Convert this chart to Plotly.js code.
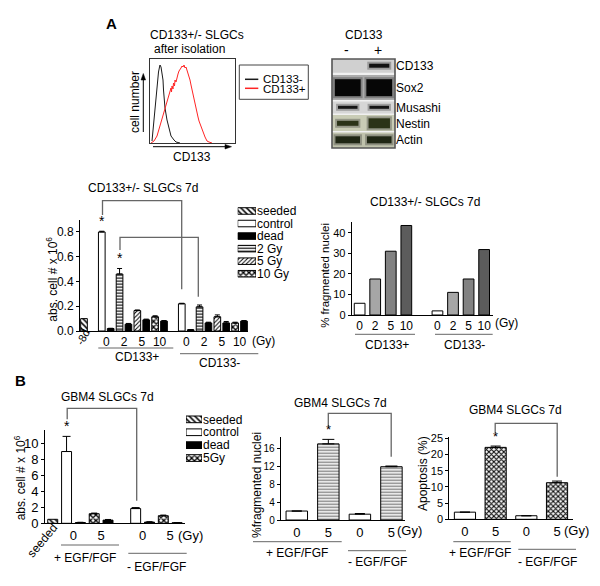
<!DOCTYPE html>
<html><head><meta charset="utf-8">
<script src="https://cdn.plot.ly/plotly-3.0.1.min.js"></script>
<style>html,body{margin:0;padding:0;background:#fff}#chart{width:600px;height:586px}</style>
</head><body><div id="chart"></div>
<script>
// ================= DATA =================
// Panel A - flow cytometry histogram (relative CD133 fluorescence vs relative cell number)
const histNegX = [2,3.5,5,7,8.5,9.5,10,11,12,13,13.5,15,17,19,21,24,26,30];
const histNegY = [2,18,38,56,71,76,78,76,71,63,53,35,23,15,7,3,1,0];
const histPosX = [1,4,7,10,12,14,16,18,19,20,21,21.5,22,23,23.5,24.5,25,26,27,28,29,30,31,32,33,34,35,36,37,38,39,40,41,42,43,44,45,46,47,48,49,50,51,52,53,54,55,56,57,59,62];
const histPosY = [0,2,7,17,25,31,37,43,48,52,55,51,57,54,60,57,63,61,67,69,72,73,75,77,76,78,75,76,73,71,67,63,58,53,48,44,39,35,30,26,22,19,16,13,11,8,6,4,2,1,0];
const histLegend = ['CD133-','CD133+'];

// Panel A - western blot (band strength per lane)
const blotProteins = ['CD133','Sox2','Musashi','Nestin','Actin'];
const blotLanes = ['-','+'];
const blotNeg = [0, 17, 3, 5, 7];
const blotPos = [4, 17, 3, 10, 7];

// Panel A - absolute cell numbers (x 10^6), groups CD133+ and CD133-
const aGroups = ['CD133+','CD133-'];
const aDoseLabels = ['0','2','5','10'];
const aSeeded = [0.10];
const aControl = [0.80, 0.22];      const aControlErr = [0.006, 0.004];
const aDead = [0.02, 0.055, 0.09, 0.08, 0.01, 0.065, 0.065, 0.08];
const aDeadErr = [0.002, 0.006, 0.006, 0.004, 0.002, 0.006, 0.012, 0.004];
const a2Gy = [0.46, 0.195];          const a2GyErr = [0.045, 0.015];
const a5Gy = [0.165, 0.115];         const a5GyErr = [0.005, 0.015];
const a10Gy = [0.115, 0.065];        const a10GyErr = [0.008, 0.006];
const legendA = ['seeded','control','dead','2 Gy','5 Gy','10 Gy'];

// Panel A - % fragmented nuclei
const fragDoses = ['0','2','5','10'];
const fragCD133pos = [5.7, 17.5, 31.0, 43.5];
const fragCD133neg = [2.0, 11.0, 17.5, 31.8];

// Panel B - GBM4 absolute cell numbers (x 10^6), +EGF/FGF and -EGF/FGF
const bGroups = ['+ EGF/FGF','- EGF/FGF'];
const bDoseLabels = ['0','5'];
const bSeeded = [0.5];
const bControl = [9.0, 1.85];        const bControlErr = [1.9, 0.12];
const bDead = [0.1, 0.4, 0.15, 0.08]; const bDeadErr = [0.03, 0.08, 0.04, 0.02];
const b5Gy = [1.2, 0.95];            const b5GyErr = [0.08, 0.08];
const legendB = ['seeded','control','dead','5Gy'];

// Panel B - % fragmented nuclei and apoptosis
const bFrag = [2.0, 17.0, 1.3, 11.9];  const bFragErr = [0, 1.0, 0.15, 0.15];
const bApop = [2.2, 22.2, 1.1, 11.3];  const bApopErr = [0, 0.4, 0, 0.5];

// ================= LAYOUT HELPERS =================
const FONT = 'Liberation Sans, Arial, Helvetica, sans-serif';
const W = 600, H = 586;
const X = p => p / W, Y = p => 1 - p / H;
const dx = (a, b) => [a / W, b / W];
const dy = (top, bot) => [1 - bot / H, 1 - top / H];

const layout = {
  width: W, height: H, margin: {l:0, r:0, t:0, b:0},
  paper_bgcolor: 'white', plot_bgcolor: 'rgba(0,0,0,0)',
  showlegend: false, barmode: 'overlay',
  font: {family: FONT, size: 12, color: '#000'},
  annotations: [], shapes: []
};
function ann(text, x, y, o) {
  layout.annotations.push(Object.assign({text, x: X(x), y: Y(y), xref:'paper', yref:'paper',
    showarrow:false, xanchor:'center', yanchor:'middle'}, o || {}));
}
function pline(x0, y0, x1, y1, color, w) {
  layout.shapes.push({type:'line', xref:'paper', yref:'paper', x0:X(x0), y0:Y(y0), x1:X(x1), y1:Y(y1),
    line:{color: color || '#666', width: w || 1}});
}
function ppath(pts, fill) {
  const d = pts.map((p, i) => (i ? 'L' : 'M') + X(p[0]) + ',' + Y(p[1])).join(' ') + (fill ? ' Z' : '');
  layout.shapes.push({type:'path', xref:'paper', yref:'paper', path:d,
    fillcolor: fill || 'rgba(0,0,0,0)', line:{color: fill ? fill : '#666', width: fill ? 0.5 : 1.3}});
}
const bracket = (xl, yl, yTop, xr, yr) => ppath([[xl,yl],[xl,yTop],[xr,yTop],[xr,yr]]);
const yBase = {showline:true, linecolor:'#000', linewidth:1, ticks:'outside', ticklen:3, tickwidth:1,
  tickcolor:'#000', showgrid:false, zeroline:false};
const xBase = {showline:true, linecolor:'#000', linewidth:1, ticks:'', showgrid:false, zeroline:false,
  tickmode:'array'};
const hidden = {visible:false, showgrid:false, zeroline:false};
const legendY = (labels, top, bot) => ({domain: dy(top, bot), range:[labels.length - 0.5, -0.5], side:'right',
  tickmode:'array', tickvals: labels.map((_, i) => i), ticktext: labels, ticks:'', showline:false,
  showgrid:false, zeroline:false, tickfont:{size:12}});

// ---- axes ----
Object.assign(layout, {
  xaxis: {domain: dx(150,235), range:[0,85], anchor:'y', showline:true, mirror:true, linecolor:'#333', linewidth:1,
          ticks:'', showticklabels:false, showgrid:false, zeroline:false},
  yaxis: {domain: dy(59,143), range:[0,84], anchor:'x', showline:true, mirror:true, linecolor:'#333', linewidth:1,
          ticks:'', showticklabels:false, showgrid:false, zeroline:false},
  xaxis2: Object.assign({domain: dx(332,395), range:[-0.5,1.5], anchor:'y2'}, hidden),
  yaxis2: {domain: dy(59,148), range:[89,0], anchor:'x2', side:'right', tickmode:'array',
           tickvals:[6.7,28.7,48.3,64.3,80.8], ticktext: blotProteins, ticks:'', showline:false,
           showgrid:false, zeroline:false, tickfont:{size:12}},
  xaxis3: Object.assign({}, xBase, {domain: dx(80,248), range:[-0.45,18.45], anchor:'y3',
           tickvals:[2.5,4.5,6.5,8.5,11.5,13.5,15.5,17.5], ticktext: aDoseLabels.concat(aDoseLabels), tickfont:{size:12}}),
  yaxis3: Object.assign({}, yBase, {domain: dy(219.6,331), range:[0,0.9], anchor:'x3',
           tickvals:[0,0.2,0.4,0.6,0.8], tickformat:'.1f', tickfont:{size:12}}),
  xaxis4: Object.assign({}, xBase, {domain: dx(351.7,492.7), range:[-0.51,8.55], anchor:'y4',
           tickvals:[0,1,2,3,5,6,7,8], ticktext: fragDoses.concat(fragDoses), tickfont:{size:12}}),
  yaxis4: Object.assign({}, yBase, {domain: dy(222.4,315), range:[0,45], anchor:'x4',
           tickvals:[0,10,20,30,40], tickfont:{size:11}}),
  xaxis5: Object.assign({}, xBase, {domain: dx(45,185), range:[-0.56,9.57], anchor:'y5',
           tickvals:[1.5,3.5,6.5,8.5], ticktext: bDoseLabels.concat(bDoseLabels), tickfont:{size:13}}),
  yaxis5: Object.assign({}, yBase, {domain: dy(430,523.3), range:[0,11.7], anchor:'x5',
           tickvals:[0,2,4,6,8,10], tickfont:{size:13}}),
  xaxis6: Object.assign({}, xBase, {domain: dx(280.7,405), range:[-0.51,3.43], anchor:'y6',
           tickvals:[0,1,2,3], ticktext: bDoseLabels.concat(bDoseLabels), tickfont:{size:13}}),
  yaxis6: Object.assign({}, yBase, {domain: dy(436.7,520), range:[0,18.6], anchor:'x6',
           tickvals:[0,4,8,12,16], tickfont:{size:10}}),
  xaxis7: Object.assign({}, xBase, {domain: dx(449.3,573.3), range:[-0.51,3.53], anchor:'y7',
           tickvals:[0,1,2,3], ticktext: bDoseLabels.concat(bDoseLabels), tickfont:{size:13}}),
  yaxis7: Object.assign({}, yBase, {domain: dy(437,519.3), range:[0,25.4], anchor:'x7',
           tickvals:[0,5,10,15,20,25], tickfont:{size:11}}),
  xaxis8: Object.assign({domain: dx(237.7,256), range:[0,1], anchor:'y8'}, hidden),
  yaxis8: Object.assign(legendY(legendA, 204.7, 280), {anchor:'x8'}),
  xaxis9: Object.assign({domain: dx(186,202), range:[0,1], anchor:'y9'}, hidden),
  yaxis9: Object.assign(legendY(legendB, 412.9, 464.5), {anchor:'x9'})
});

// ================= TRACES =================
const traces = [];
// Histogram
traces.push({type:'scatter', mode:'lines', x:histNegX, y:histNegY, xaxis:'x', yaxis:'y',
  line:{color:'#1a1a1a', width:1}, hoverinfo:'skip'});
traces.push({type:'scatter', mode:'lines', x:histPosX, y:histPosY, xaxis:'x', yaxis:'y',
  line:{color:'#ff2424', width:1}, hoverinfo:'skip'});

// Western blot rows (backgrounds) and bands
const blotRows = [[0,13.7,'#d0d0d0'],[16,41,'#ababab'],[42.5,54.5,'#d6d6d6'],[56,72,'#c9ccb6'],[73.5,89,'#bfc2ac']];
layout.shapes.push({type:'rect', xref:'x2 domain', yref:'y2 domain', x0:0, x1:1, y0:0, y1:1,
  fillcolor:'#f0f0f0', line:{width:0}, layer:'below'});
blotRows.forEach(r => layout.shapes.push({type:'rect', xref:'x2 domain', yref:'y2', x0:0, x1:1, y0:r[0], y1:r[1],
  fillcolor:r[2], line:{width:0}, layer:'below'}));
const bandY = layout.yaxis2.tickvals;
const bandHalf = [0.38, 0.47, 0.37, 0.40, 0.45];
const bandColor = ['#121212', '#060606', '#151515', '#2b3318', '#1f2614'];
[blotNeg, blotPos].forEach((lane, j) => {
  lane.forEach((t, i) => {
    if (!t) return;
    traces.push({type:'scatter', mode:'lines', x:[j - bandHalf[i], j + bandHalf[i]], y:[bandY[i], bandY[i]],
      xaxis:'x2', yaxis:'y2', line:{color:'rgba(30,30,30,0.3)', width:t + 4}, hoverinfo:'skip'});
    traces.push({type:'scatter', mode:'lines', x:[j - bandHalf[i] + 0.06, j + bandHalf[i] - 0.06], y:[bandY[i], bandY[i]],
      xaxis:'x2', yaxis:'y2', line:{color:bandColor[i], width:t}, hoverinfo:'skip'});
  });
});
layout.shapes.push({type:'rect', xref:'x2 domain', yref:'y2 domain', x0:0, x1:1, y0:0, y1:1,
  line:{color:'#555', width:1.6}});

// Bar helper
function bar(xa, ya, x, y, err, marker, width, capw) {
  const t = {type:'bar', x, y, xaxis:xa, yaxis:ya, width, hoverinfo:'skip',
    marker: Object.assign({line:{color:'#000', width:1}}, marker)};
  if (err) t.error_y = {type:'data', symmetric:false, array:err, arrayminus:err.map(() => 0),
    color:'#000', thickness:1, width:capw || 2.5, visible:true};
  return t;
}
const mWhite = {color:'white'};
const mBlack = {color:'black'};
const mPat = (shape, size, sol, fg) => ({color:'white', pattern:{shape, size, solidity:sol, fgcolor:fg || '#000', bgcolor:'white'}});
const styleSeeded = mPat('\\', 4, 0.38);
const style2Gy = mPat('-', 3, 0.38);
const style5Gy = mPat('/', 3, 0.33);
const styleX = mPat('x', 4, 0.55);

// Panel A cell numbers: seeded at slot 0, groups start at slots 2 and 11
const aBase = [2, 11];
const aSlots = off => aBase.map(b => b + off);
const aDeadSlots = aBase.flatMap(b => [b + 1, b + 3, b + 5, b + 7]);
const wA = 0.75;
traces.push(bar('x3','y3',[0], aSeeded, null, styleSeeded, wA));
traces.push(bar('x3','y3',aSlots(0), aControl, aControlErr, mWhite, wA));
traces.push(bar('x3','y3',aDeadSlots, aDead, aDeadErr, mBlack, wA));
traces.push(bar('x3','y3',aSlots(2), a2Gy, a2GyErr, style2Gy, wA));
traces.push(bar('x3','y3',aSlots(4), a5Gy, a5GyErr, style5Gy, wA));
traces.push(bar('x3','y3',aSlots(6), a10Gy, a10GyErr, styleX, wA));

// Legend A (mini horizontal bar axis, one swatch per series)
const legStylesA = [styleSeeded, mWhite, mBlack, style2Gy, style5Gy, styleX];
legendA.forEach((name, i) => traces.push({type:'bar', orientation:'h', x:[1], y:[i], base:0,
  xaxis:'x8', yaxis:'y8', width:0.52, hoverinfo:'skip',
  marker:Object.assign({line:{color:'#000', width:1}}, legStylesA[i])}));

// Panel A fragmented nuclei
const fragColors = ['white','#a6a6a6','#828282','#5c5c5c'];
traces.push(bar('x4','y4',[0,1,2,3], fragCD133pos, null, {color:fragColors}, 0.69));
traces.push(bar('x4','y4',[5,6,7,8], fragCD133neg, null, {color:fragColors}, 0.69));

// Panel B cell numbers: seeded slot 0, groups start at slots 1 and 6
const bBase = [1, 6];
const bSlots = off => bBase.map(b => b + off);
const bDeadSlots = bBase.flatMap(b => [b + 1, b + 3]);
const wB = 0.72;
traces.push(bar('x5','y5',[0], bSeeded, null, styleSeeded, wB));
traces.push(bar('x5','y5',bSlots(0), bControl, bControlErr, mWhite, wB, 4));
traces.push(bar('x5','y5',bDeadSlots, bDead, bDeadErr, mBlack, wB, 3));
traces.push(bar('x5','y5',bSlots(2), b5Gy, b5GyErr, styleX, wB, 3));
const legStylesB = [styleSeeded, mWhite, mBlack, styleX];
legendB.forEach((name, i) => traces.push({type:'bar', orientation:'h', x:[1], y:[i], base:0,
  xaxis:'x9', yaxis:'y9', width:0.52, hoverinfo:'skip',
  marker:Object.assign({line:{color:'#000', width:1}}, legStylesB[i])}));

// Panel B fragmented nuclei and apoptosis (0 Gy white, 5 Gy patterned)
const zeroGy = [0, 2], fiveGy = [1, 3];
const pick = (arr, idx) => idx.map(i => arr[i]);
traces.push(bar('x6','y6',zeroGy, pick(bFrag, zeroGy), pick(bFragErr, zeroGy), mWhite, 0.68, 5));
traces.push(bar('x6','y6',fiveGy, pick(bFrag, fiveGy), pick(bFragErr, fiveGy), mPat('-',3,0.45,'#7a7a7a'), 0.68, 6));
traces.push(bar('x7','y7',zeroGy, pick(bApop, zeroGy), pick(bApopErr, zeroGy), mWhite, 0.69, 5));
traces.push(bar('x7','y7',fiveGy, pick(bApop, fiveGy), pick(bApopErr, fiveGy), mPat('x',3.5,0.5,'#000'), 0.69, 5));

// ================= TEXT & DECORATIONS =================
// Panel A histogram
ann('<b>A</b>', 111.7, 23.3, {font:{size:15}});
ann('CD133+/- SLGCs', 196.7, 35);
ann('after isolation', 189, 49.3);
ann('cell number', 135, 102, {textangle:-90});
ann('CD133', 192, 156.5);
pline(143.3, 132, 143.3, 78, '#000', 1);
ppath([[143.3,73.5],[141,80],[145.6,80]], '#000');
pline(153, 146.7, 227, 146.7, '#000', 1);
ppath([[231.5,146.7],[225,144.4],[225,149]], '#000');
layout.shapes.push({type:'rect', xref:'paper', yref:'paper', x0:X(239.3), x1:X(308.3), y0:Y(99.3), y1:Y(65),
  line:{color:'#444', width:1}});
pline(245, 79.3, 258.3, 79.3, '#1a1a1a', 1.5);
pline(245, 88.3, 258.3, 88.3, '#ff2424', 1.5);
ann(histLegend[0], 261, 79.3, {xanchor:'left', font:{size:11.5}});
ann(histLegend[1], 261, 88.6, {xanchor:'left', font:{size:11.5}});

// Blot header
ann('CD133', 364, 35.5);
ann(blotLanes[0], 346.7, 50, {font:{size:14}});
ann(blotLanes[1], 378.3, 50, {font:{size:14}});

// Panel A cell numbers
ann('CD133+/- SLGCs 7d', 143.3, 188);
ann('abs. cell # x 10<sup>6</sup>', 51.7, 279, {textangle:-90});
ann('-8d', 83, 337, {textangle:-60, font:{size:11}});
ann('(Gy)', 263, 341);
pline(98.3, 348, 173.3, 348);
ann(aGroups[0], 136.7, 356.8);
pline(180, 353.7, 258.3, 353.7);
ann(aGroups[1], 220, 362.5);
bracket(102.5, 215, 200.7, 181.7, 289.3);
bracket(120, 250, 237.3, 198.3, 296.7);
layout.annotations.push({xref:'x3', yref:'y3', x:aSlots(0)[0], y:aControl[0] + aControlErr[0], text:'*',
  showarrow:false, yanchor:'bottom', font:{size:14}});
layout.annotations.push({xref:'x3', yref:'y3', x:aSlots(2)[0], y:a2Gy[0] + a2GyErr[0], text:'*',
  showarrow:false, yanchor:'bottom', font:{size:14}});

// Panel A fragmented nuclei
ann('CD133+/- SLGCs 7d', 425, 201.7);
ann('% fragmented nuclei', 325, 275.8, {textangle:-90, font:{size:11.5}});
ann('(Gy)', 506.7, 323.3);
pline(355, 334.3, 415, 334.3);
pline(435, 334.3, 492.7, 334.3);
ann(aGroups[0], 386.7, 344.5);
ann(aGroups[1], 464, 344.5);

// Panel B cell numbers
ann('<b>B</b>', 20, 380, {font:{size:15}});
ann('GBM4 SLGCs 7d', 107, 396.7);
ann('abs. cell # x 10<sup>6</sup>', 20, 478.3, {textangle:-90});
ann('seeded', 42, 541, {textangle:-50});
ann('(Gy)', 190, 535.5, {font:{size:13}});
pline(61, 545, 119, 545);
ann(bGroups[0], 85, 558.3);
pline(128.3, 553.3, 186.7, 553.3);
ann(bGroups[1], 156, 567.3);
bracket(67.2, 419.3, 408.3, 136.7, 500.7);
layout.annotations.push({xref:'x5', yref:'y5', x:bSlots(0)[0], y:bControl[0] + bControlErr[0], text:'*',
  showarrow:false, yanchor:'bottom', font:{size:14}});

// Panel B fragmented nuclei
ann('GBM4 SLGCs 7d', 340, 403);
ann('%fragmented nuclei', 257, 485, {textangle:-90});
ann('(Gy)', 409, 530, {font:{size:13}});
pline(253, 541.7, 341.7, 541.7);
ann(bGroups[0], 297, 553);
pline(348, 550.7, 406, 550.7);
ann(bGroups[1], 377, 561.7);
bracket(328.3, 426.7, 413.3, 391.2, 456.7);
layout.annotations.push({xref:'x6', yref:'y6', x:1, y:bFrag[1] + bFragErr[1], text:'*',
  showarrow:false, yanchor:'bottom', font:{size:13}});

// Panel B apoptosis
ann('GBM4 SLGCs 7d', 515.8, 410);
ann('Apoptosis (%)', 423, 474, {textangle:-90});
ann('(Gy)', 576, 530, {font:{size:13}});
pline(453.3, 541.7, 510.7, 541.7);
ann(bGroups[0], 480, 552.7);
pline(518.3, 549.3, 576, 549.3);
ann(bGroups[1], 547, 561.7);
bracket(495.2, 432.7, 423.3, 557.2, 476.7);
layout.annotations.push({xref:'x7', yref:'y7', x:1, y:bApop[1] + bApopErr[1], text:'*',
  showarrow:false, yanchor:'bottom', font:{size:13}});

Plotly.newPlot('chart', traces, layout, {staticPlot:true, displayModeBar:false});
</script>
</body></html>
